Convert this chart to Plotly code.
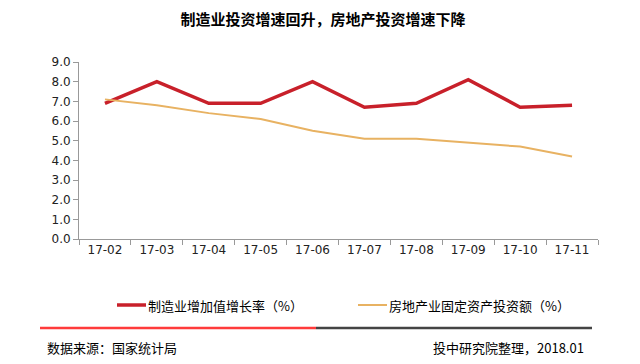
import plotly.graph_objects as go

months = ["17-02", "17-03", "17-04", "17-05", "17-06", "17-07", "17-08", "17-09", "17-10", "17-11"]
manufacturing = [6.9, 8.0, 6.9, 6.9, 8.0, 6.7, 6.9, 8.1, 6.7, 6.8]
real_estate = [7.1, 6.8, 6.4, 6.1, 5.5, 5.1, 5.1, 4.9, 4.7, 4.2]
y_ticks = [0, 1, 2, 3, 4, 5, 6, 7, 8, 9]
series_names = ["制造业增加值增长率（%）", "房地产业固定资产投资额（%）"]
series_colors = ["#C8202A", "#E8B262"]
series_widths = [3.5, 2]

# page body has an 8px margin; work in page coordinates and offset
OFF = 8
W, H = 640 - OFF, 364 - OFF
L, R, T, B = 79 - OFF, 598 - OFF, 62 - OFF, 239 - OFF
pw, ph = R - L, B - T

def px(x):
    return (x - OFF - L) / pw

def py(y):
    return (B - (y - OFF)) / ph

font = "Noto Sans CJK SC, Liberation Sans, sans-serif"

fig = go.Figure()
for vals, name, col, wd in zip([manufacturing, real_estate], series_names, series_colors, series_widths):
    fig.add_trace(go.Scatter(x=months, y=vals, mode="lines", name=name,
                             line=dict(color=col, width=wd)))

fig.update_layout(
    width=W, height=H,
    margin=dict(l=L, r=W - R, t=T, b=H - B, autoexpand=False),
    paper_bgcolor="white", plot_bgcolor="white",
    font=dict(family=font, size=12, color="#000000"),
    title=dict(text="<b>制造业投资增速回升，房地产投资增速下降</b>",
               x=(323 - OFF) / W, xanchor="center", y=1 - (20 - OFF) / H, yanchor="middle",
               font=dict(size=15, color="#000000", family=font)),
    showlegend=False,
    xaxis=dict(type="category", showgrid=False, showline=True, linecolor="#999999",
               linewidth=1, ticks="outside", tickson="boundaries", ticklen=5,
               tickcolor="#999999",
               tickfont=dict(size=12, family="DejaVu Sans, sans-serif", color="#222222"),
               range=[-0.5, len(months) - 0.5]),
    yaxis=dict(range=[0, 9], tickvals=y_ticks, tickformat=".1f", showgrid=False,
               showline=True, linecolor="#999999", linewidth=1, ticks="outside",
               ticklen=5, tickcolor="#999999", zeroline=False,
               tickfont=dict(size=12, family="DejaVu Sans, sans-serif", color="#222222")),
)

# manual legend
legend_x = [117, 358]
for lx, name, col, wd in zip(legend_x, series_names, series_colors, series_widths):
    fig.add_shape(type="line", xref="paper", yref="paper", x0=px(lx), x1=px(lx + 29),
                  y0=py(305), y1=py(305), line=dict(color=col, width=wd))
    fig.add_annotation(xref="paper", yref="paper", x=px(lx + 29), y=py(305), xanchor="left",
                       yanchor="middle", showarrow=False, text=name,
                       font=dict(size=13, family=font, color="#000000"))

fig.add_shape(type="line", xref="paper", yref="paper", x0=px(40), x1=px(316),
              y0=py(328), y1=py(328), line=dict(color="#FF3B3B", width=2.5))
fig.add_shape(type="line", xref="paper", yref="paper", x0=px(316), x1=px(592),
              y0=py(328), y1=py(328), line=dict(color="#444444", width=2.5))

fig.add_annotation(xref="paper", yref="paper", x=px(45), y=py(347), xanchor="left",
                   yanchor="middle", showarrow=False, text="数据来源：国家统计局",
                   font=dict(size=13, family=font, color="#000000"))
fig.add_annotation(xref="paper", yref="paper", x=px(431), y=py(347), xanchor="left",
                   yanchor="middle", showarrow=False, text="投中研究院整理，2018.01",
                   font=dict(size=13, family=font, color="#000000"))

fig.write_html("out.html")
